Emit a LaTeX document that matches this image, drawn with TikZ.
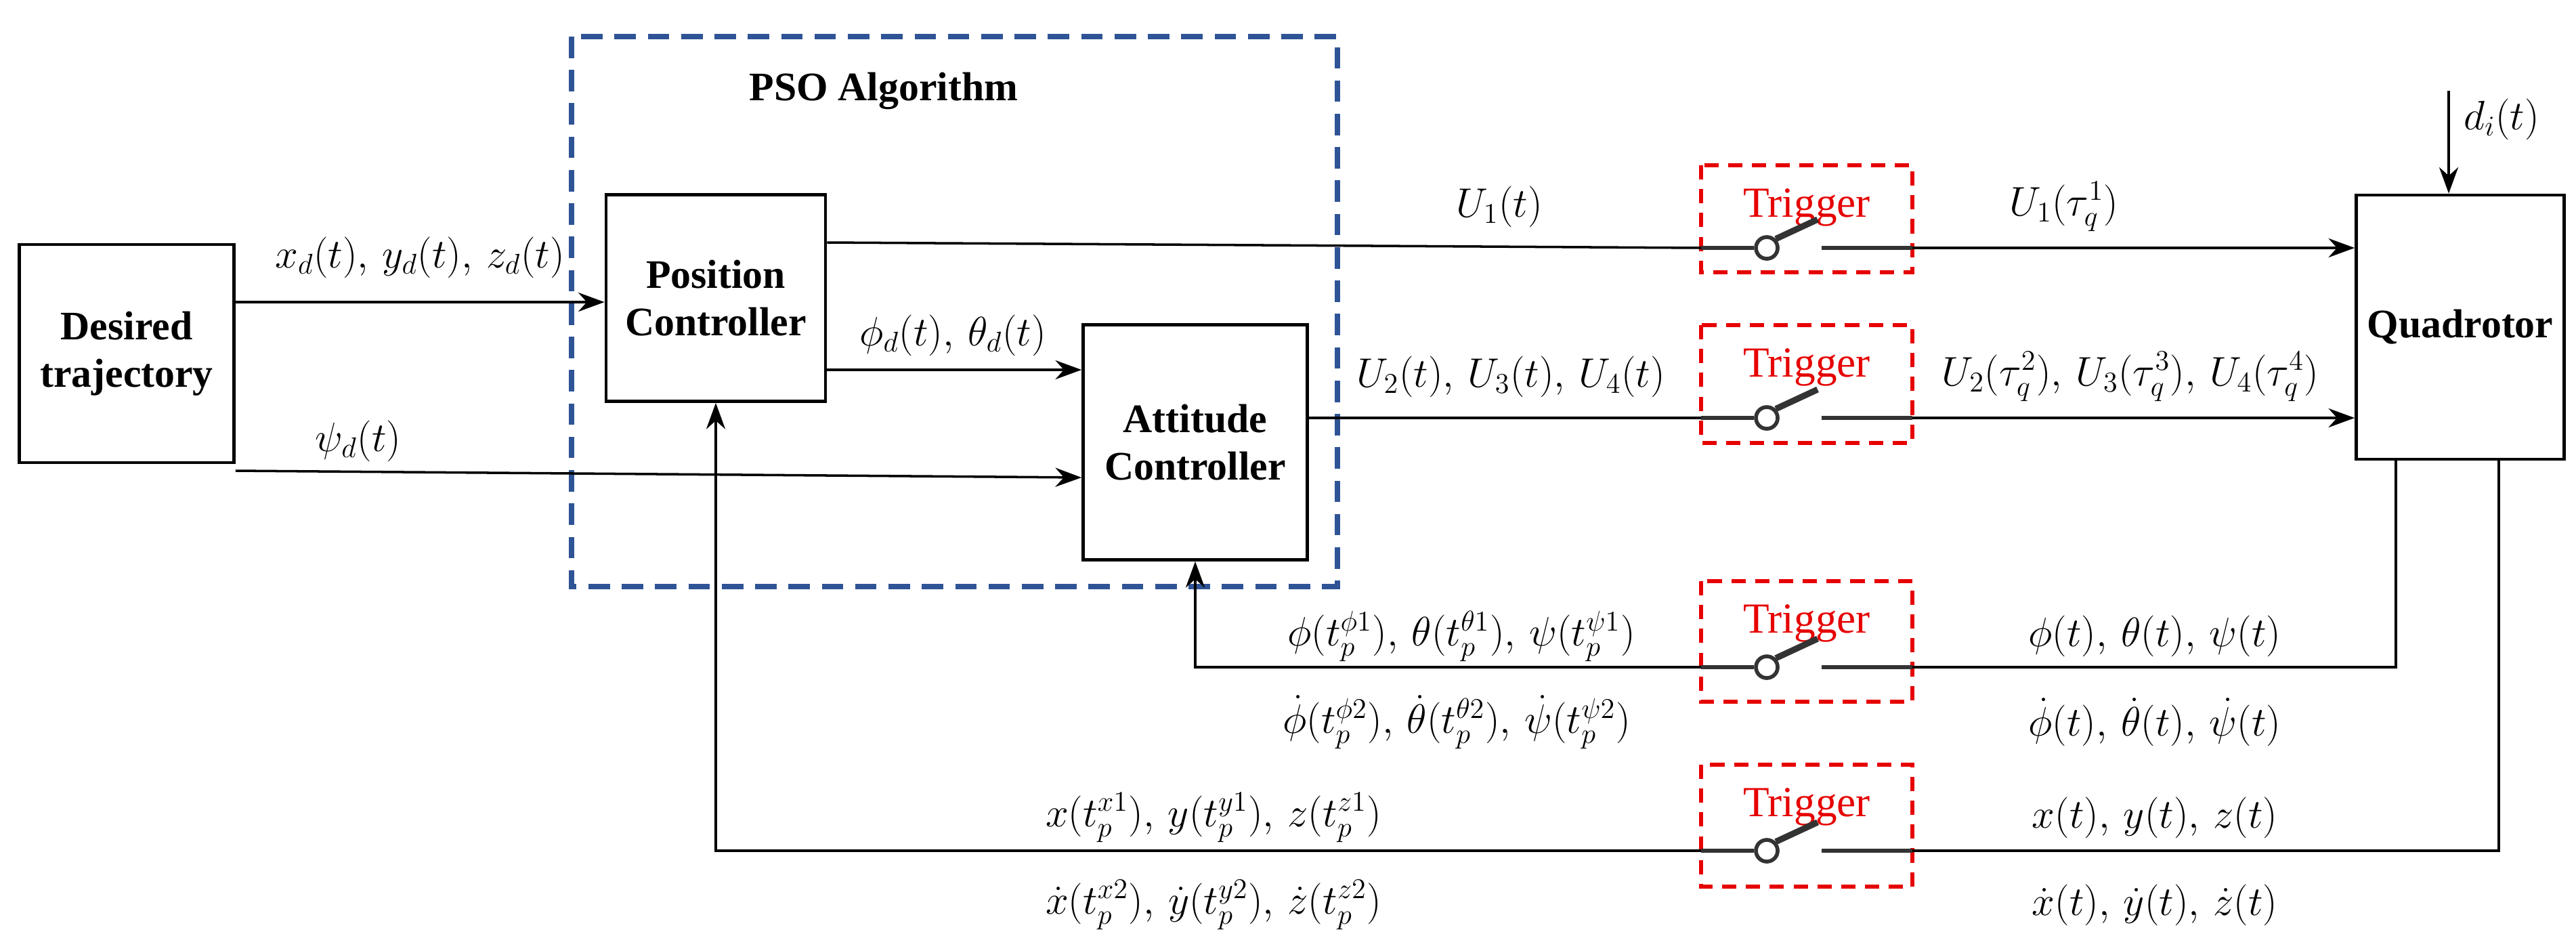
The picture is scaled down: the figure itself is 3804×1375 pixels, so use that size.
\documentclass[tikz,border=0pt]{standalone}
\usepackage{fontspec}
\setmainfont{Liberation Serif}
\usepackage{amsmath}
\usetikzlibrary{arrows.meta}
\definecolor{psoblue}{RGB}{47,84,150}
\definecolor{trigred}{RGB}{230,0,0}
\begin{document}
\begin{tikzpicture}[x=0.01cm,y=-0.01cm,
  blk/.style={draw,line width=1.3pt,minimum width=#1,align=center,font=\fontsize{17}{20}\selectfont\bfseries,inner sep=0pt},
  lab/.style={font=\fontsize{17}{20}\selectfont,inner sep=0pt},
  sig/.style={line width=1pt,-{Stealth[length=11pt,width=8pt]}},
  ln/.style={line width=1pt},
  trig/.style={draw=trigred,line width=1.6pt,dash pattern=on 6pt off 4pt},
  ttext/.style={text=trigred,font=\fontsize{18}{20}\selectfont,inner sep=0pt}]
\useasboundingbox (0,0) rectangle (3804,1375);
% blocks
\node[blk=3.17cm, minimum height=3.22cm] (des) at (187,522) {Desired\\trajectory};
\node[blk=3.24cm, minimum height=3.05cm] (pos) at (1057,440) {Position\\Controller};
\node[blk=3.31cm, minimum height=3.47cm] (att) at (1765,653) {Attitude\\Controller};
\node[blk=3.07cm, minimum height=3.90cm] (quad) at (3633,483) {Quadrotor};
\draw[psoblue,line width=2.2pt,dash pattern=on 9pt off 5pt] (844,54) rectangle (1975,866);
\node[lab,font=\fontsize{17}{20}\selectfont\bfseries] (pso) at (1305,134) {PSO Algorithm};
% triggers
\foreach \n/\ty/\by/\ly in {1/244/402/366, 2/480/654/617, 3/858/1036/985, 4/1129/1309/1256}{
  \draw[trig] (2512,\ty) rectangle (2824,\by);
  \node[ttext] (t\n) at (2668,{\ty+62}) {Trigger};
  \coordinate (sl\n) at (2512,\ly);
  \coordinate (sr\n) at (2824,\ly);
  \node[draw,circle,line width=1.6pt,inner sep=0pt,fill=white,draw=black!80,minimum size=0.32cm] (c\n) at (2609,\ly) {};
  \draw[black!80,line width=2.6pt] (c\n.north east) -- (2684,{\ly-42});
  \draw[black!80,line width=1.8pt] (sl\n) -- (c\n.west);
  \draw[black!80,line width=1.8pt] (2690,\ly) -- (sr\n);
}
% forward signals
\draw[sig] (des.east |- 0,446) -- (pos.west |- 0,446);
\draw[sig] (des.east |- 0,695) -- (att.west |- 0,705);
\draw[sig] (pos.east |- 0,546) -- (att.west |- 0,546);
\draw[ln] (pos.east |- 0,358) -- (sl1);
\draw[sig] (sr1) -- (quad.west |- sr1);
\draw[ln] (att.east |- 0,617) -- (sl2);
\draw[sig] (sr2) -- (quad.west |- sr2);
\coordinate (dtop) at (3616,134);
\draw[sig] (dtop) -- (dtop |- quad.north);
% feedback
\draw[ln] (quad.south -| 3538,0) |- (sr3);
\draw[sig] (sl3) -| (att.south);
\draw[ln] (quad.south -| 3690,0) |- (sr4);
\draw[sig] (sl4) -| (pos.south);
% labels
\node[lab] (l1) at (620,380) {$x_d(t),\, y_d(t),\, z_d(t)$};
\node[lab] (l2) at (529,651) {$\psi_d(t)$};
\node[lab] (l3) at (1407,495) {$\phi_d(t),\, \theta_d(t)$};
\node[lab] (l4) at (2214,305) {$U_1(t)$};
\node[lab] (l5) at (3048,305) {$U_1(\tau_q^1)$};
\node[lab] (l6) at (2231,556) {$U_2(t),\, U_3(t),\, U_4(t)$};
\node[lab] (l7) at (3146,556) {$U_2(\tau_q^2),\, U_3(\tau_q^3),\, U_4(\tau_q^4)$};
\node[lab] (l8) at (2158,939) {$\phi(t_p^{\phi1}),\, \theta(t_p^{\theta1}),\, \psi(t_p^{\psi1})$};
\node[lab] (l9) at (2151,1066) {$\dot\phi(t_p^{\phi2}),\, \dot\theta(t_p^{\theta2}),\, \dot\psi(t_p^{\psi2})$};
\node[lab] (l10) at (3182,939) {$\phi(t),\, \theta(t),\, \psi(t)$};
\node[lab] (l11) at (3182,1066) {$\dot\phi(t),\, \dot\theta(t),\, \dot\psi(t)$};
\node[lab] (l12) at (1792,1207) {$x(t_p^{x1}),\, y(t_p^{y1}),\, z(t_p^{z1})$};
\node[lab] (l13) at (1792,1336) {$\dot x(t_p^{x2}),\, \dot y(t_p^{y2}),\, \dot z(t_p^{z2})$};
\node[lab] (l14) at (3182,1207) {$x(t),\, y(t),\, z(t)$};
\node[lab] (l15) at (3182,1336) {$\dot x(t),\, \dot y(t),\, \dot z(t)$};
\node[lab] (l16) at (3694,176) {$d_i(t)$};
\end{tikzpicture}
\end{document}
